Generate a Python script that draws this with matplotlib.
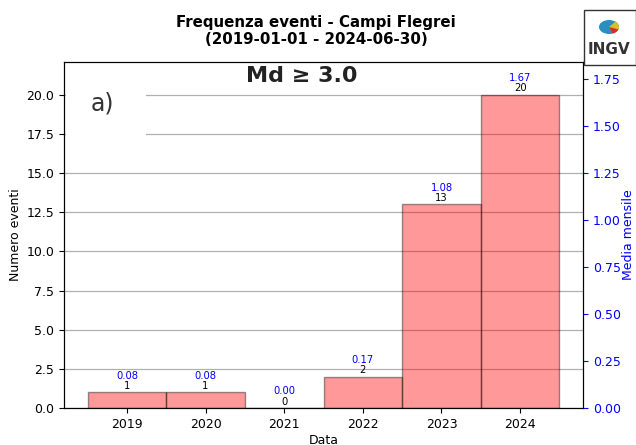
import numpy as np
import matplotlib
matplotlib.use('Agg')
import matplotlib.pyplot as plt
from matplotlib.patches import Rectangle, Circle, Wedge

years = ['2019', '2020', '2021', '2022', '2023', '2024']
counts = [1, 1, 0, 2, 13, 20]
means = [0.08, 0.08, 0.00, 0.17, 1.08, 1.67]

plt.rcParams['font.size'] = 9

fig = plt.figure(figsize=(6.36, 4.45), dpi=100)
ax = fig.add_axes([0.1006, 0.0831, 0.8161, 0.7776])

x = np.arange(len(years))
ax.grid(axis='y', color='#b0b0b0', linewidth=0.9, zorder=0)
ax.set_axisbelow(True)
ax.bar(x, counts, width=1.0, color='red', alpha=0.4, edgecolor='black', linewidth=1.0, zorder=2)
ax.set_xticks(x)
ax.set_xticklabels(years)
top = 22.1
ax.set_ylim(0, top)
ax.set_yticks(np.arange(0, 20.1, 2.5))
ax.set_xlabel('Data', labelpad=2)
ax.set_ylabel('Numero eventi', labelpad=3)

for i in range(len(years)):
    ax.annotate(str(counts[i]), (x[i], counts[i]), xytext=(0, 1), textcoords='offset points',
                ha='center', va='bottom', fontsize=7.2, color='black')
    ax.annotate('%.2f' % means[i], (x[i], counts[i]), xytext=(0, 8.5), textcoords='offset points',
                ha='center', va='bottom', fontsize=7.2, color='blue')

ax2 = ax.twinx()
ax2.set_ylim(0, top / 12)
ax2.set_yticks(np.arange(0, 1.76, 0.25))
ax2.set_yticklabels(['%.2f' % v for v in np.arange(0, 1.76, 0.25)])
ax2.tick_params(axis='y', colors='blue')
ax2.set_ylabel('Media mensile', color='blue', labelpad=1)

fig.suptitle('Frequenza eventi - Campi Flegrei\n(2019-01-01 - 2024-06-30)',
             fontsize=10.8, fontweight='bold', x=0.497, y=0.966, linespacing=1.15)

# pasted label panel
fig.patches.append(Rectangle((66 / 636, 1 - 140 / 445), 80 / 636, 52 / 445,
                             transform=fig.transFigure, facecolor='white', edgecolor='none', zorder=3))
fig.text(102 / 636, 1 - 104 / 445, 'a)', fontsize=17, color='#333333', ha='center', va='center', zorder=4)
fig.text(302 / 636, 1 - 76 / 445, 'Md ≥ 3.0', fontsize=16, fontweight='bold', color='#222222',
         ha='center', va='center', zorder=4)

# logo box
fig.patches.append(Rectangle((584 / 636, 1 - 65 / 445), 52 / 636, 55 / 445,
                             transform=fig.transFigure, facecolor='white', edgecolor='#333333',
                             linewidth=1.0, zorder=3))
fig.patches.append(Circle((609 / 636, 1 - 27 / 445), 10 / 636, transform=fig.transFigure,
                          facecolor='#2a8fc0', edgecolor='none', zorder=4))
fig.patches.append(Wedge((609 / 636, 1 - 27 / 445), 10 / 636, -70, 50, transform=fig.transFigure,
                         facecolor='#d8c020', edgecolor='none', zorder=5))
fig.patches.append(Wedge((609 / 636, 1 - 27 / 445), 10 / 636, -70, -20, transform=fig.transFigure,
                         facecolor='#d03030', edgecolor='none', zorder=6))
fig.text(609 / 636, 1 - 50 / 445, 'INGV', fontsize=11, fontweight='bold', color='#333333',
         ha='center', va='center', zorder=5)

plt.savefig('out.png', dpi=100)
